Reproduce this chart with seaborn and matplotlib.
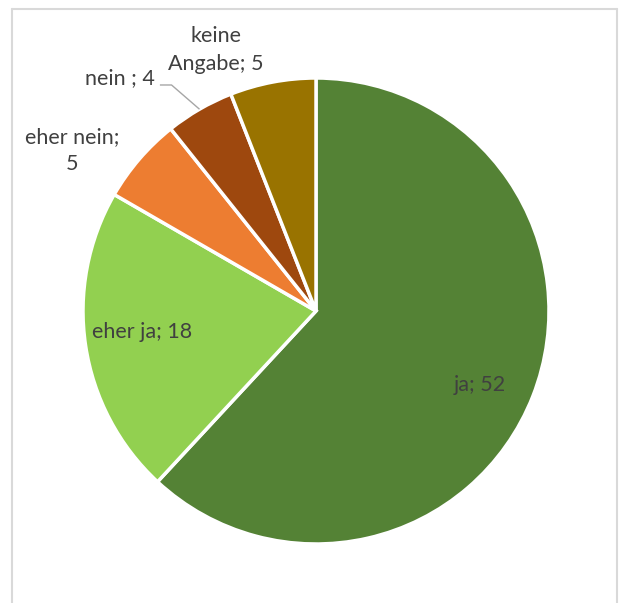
import matplotlib
matplotlib.use("Agg")
import matplotlib.pyplot as plt
from matplotlib.lines import Line2D
import numpy as np
import seaborn as sns

# Survey answers and counts
categories = ["ja", "eher ja", "eher nein", "nein ", "keine Angabe"]
counts = [52, 18, 5, 4, 5]
colors = ["#548235", "#92D050", "#ED7D31", "#9E480E", "#997300"]

sns.set_theme(style="white")
plt.rcParams["font.family"] = ["Lato", "DejaVu Sans"]
palette = sns.color_palette(colors)

W, H = 622, 603
fig = plt.figure(figsize=(W / 100, H / 100), dpi=100)

# pie centre and radius in pixels
cx, cy, r = 316, 311, 233
ax = fig.add_axes([(cx - r) / W, (H - cy - r) / H, 2 * r / W, 2 * r / H])

wedges, _ = ax.pie(
    counts, colors=palette, startangle=90, counterclock=False,
    wedgeprops=dict(edgecolor="white", linewidth=2.5), radius=1.0,
)
ax.set_xlim(-1, 1)
ax.set_ylim(-1, 1)
ax.set_aspect("equal")
ax.axis("off")

text_color = "#404040"
fs = 15.5

# label text, position (data units) and alignment
label_texts = [
    f"{categories[0]}; {counts[0]}",
    f"{categories[1]}; {counts[1]}",
    f"{categories[2]};\n{counts[2]}",
    f"{categories[3]}; {counts[3]}",
    "keine\nAngabe; " + str(counts[4]),
]
label_pos = [(0.704, -0.318), (-0.747, -0.09), (-1.047, 0.69), (-0.69, 1.0), (-0.429, 1.12)]
label_ha = ["center", "center", "center", "right", "center"]

for txt, (x, y), ha in zip(label_texts, label_pos, label_ha):
    ax.text(x, y, txt, ha=ha, va="center", fontsize=fs, color=text_color,
            linespacing=1.45, clip_on=False)

# leader line for the small "nein" slice, ending at its mid-angle on the rim
w = wedges[3]
mid = np.deg2rad((w.theta1 + w.theta2) / 2)
ex, ey = np.cos(mid), np.sin(mid)
ax.plot([-0.67, -0.62, ex], [0.97, 0.97, ey], color="#A6A6A6", lw=1.0,
        clip_on=False, solid_capstyle="butt")

# chart-area frame (open at the bottom)
frame_color = "#D9D9D9"
for xs, ys in [([12 / W, 12 / W], [0, 1 - 8.5 / H]),
               ([12 / W, 617 / W], [1 - 8.5 / H, 1 - 8.5 / H]),
               ([617 / W, 617 / W], [0, 1 - 8.5 / H])]:
    fig.add_artist(Line2D(xs, ys, transform=fig.transFigure, color=frame_color, lw=1.5))

fig.savefig("out.png", dpi=100)
